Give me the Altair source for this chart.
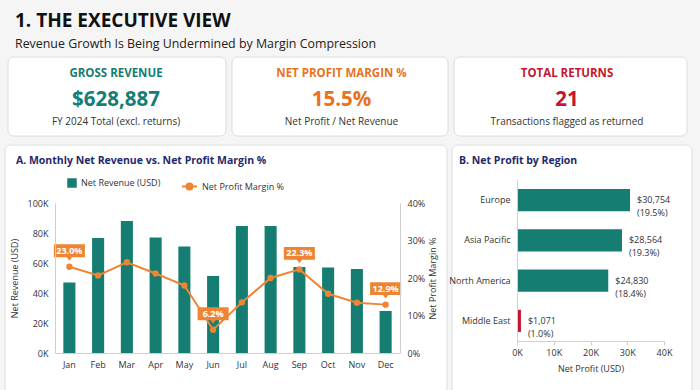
import altair as alt
import pandas as pd

# ---------------- data ----------------
months = ["Jan", "Feb", "Mar", "Apr", "May", "Jun", "Jul", "Aug", "Sep", "Oct", "Nov", "Dec"]
net_revenue = [47000, 76700, 88000, 77000, 71000, 51300, 84700, 84700, 57300, 57000, 56000, 28000]
profit_margin = [0.230, 0.207, 0.242, 0.212, 0.180, 0.062, 0.135, 0.200, 0.223, 0.158, 0.134, 0.129]
called_out = ["Jan", "Jun", "Sep", "Dec"]
series_names = ["Net Revenue (USD)", "Net Profit Margin %"]

regions = ["Europe", "Asia Pacific", "North America", "Middle East"]
region_profit = [30754, 28564, 24830, 1071]
region_margin = [0.195, 0.193, 0.184, 0.010]

kpi_titles = ["GROSS REVENUE", "NET PROFIT MARGIN %", "TOTAL RETURNS"]
kpi_values = ["$628,887", "15.5%", "21"]
kpi_notes = ["FY 2024 Total (excl. returns)", "Net Profit / Net Revenue",
             "Transactions flagged as returned"]

# ---------------- styling ----------------
FONT = "Open Sans"
TEAL = "#167d73"
ORANGE = "#ef8532"
ORANGE_DARK = "#e8721f"
RED = "#c4172f"
NAVY = "#1f2a6b"
INK = "#333333"
LINE = "#cfcfcf"

one = pd.DataFrame({"k": [0]})


def text_at(txt, x, y, size, color=INK, weight="normal", align="left"):
    return alt.Chart(one).mark_text(
        text=txt, font=FONT, fontSize=size, fontWeight=weight, color=color,
        align=align, baseline="alphabetic",
    ).encode(x=alt.value(x), y=alt.value(y))


def card(x0, x1, y0, y1):
    return alt.Chart(one).mark_rect(
        fill="white", stroke="#dcdcdc", strokeWidth=1, cornerRadius=6
    ).encode(x=alt.value(x0), x2=alt.value(x1), y=alt.value(y0), y2=alt.value(y1))


axis_text = dict(labelFont=FONT, labelFontSize=9, labelColor=INK, titleFont=FONT,
                 titleFontSize=9, titleFontWeight="normal", titleColor=INK,
                 domainColor=LINE, grid=False, zindex=1)

# ---------------- KPI cards ----------------
kpi = pd.DataFrame({"title": kpi_titles, "value": kpi_values, "note": kpi_notes})
kpi_x = alt.X("title:N", sort=kpi_titles,
              scale=alt.Scale(type="point", domain=kpi_titles, range=[116, 567], padding=0),
              axis=None)
kpi_color = alt.Color("title:N", scale=alt.Scale(domain=kpi_titles, range=[TEAL, ORANGE_DARK, RED]),
                      legend=None)
kpi_base = alt.Chart(kpi)
kpi_layer = alt.layer(
    kpi_base.mark_text(font=FONT, fontSize=11.5, fontWeight="bold", baseline="alphabetic")
    .encode(x=kpi_x, y=alt.value(77), text="title:N", color=kpi_color),
    kpi_base.mark_text(font=FONT, fontSize=20.5, fontWeight="bold", baseline="alphabetic")
    .encode(x=kpi_x, y=alt.value(105.5), text="value:N", color=kpi_color),
    kpi_base.mark_text(font=FONT, fontSize=10, color=INK, baseline="alphabetic")
    .encode(x=kpi_x, y=alt.value(124.5), text="note:N"),
)

# ---------------- Panel A: monthly revenue vs margin ----------------
monthly = pd.DataFrame({"month": months, "revenue": net_revenue, "margin": profit_margin})

x_month = alt.X(
    "month:N", sort=months,
    scale=alt.Scale(type="band", domain=months, range=[55, 400], paddingInner=0.58, paddingOuter=0.29),
    axis=alt.Axis(orient="bottom", offset=-37, title=None, ticks=False, labelAngle=0,
                  labelPadding=7, **axis_text),
)
y_rev = alt.Y(
    "revenue:Q",
    scale=alt.Scale(domain=[0, 100000], range=[353, 203], nice=False),
    axis=alt.Axis(orient="left", offset=-55, values=[0, 20000, 40000, 60000, 80000, 100000],
                  labelExpr="datum.value / 1000 + 'K'", ticks=False, labelPadding=7,
                  title="Net Revenue (USD)", titlePadding=8, **axis_text),
)
y_mar = alt.Y(
    "margin:Q",
    scale=alt.Scale(domain=[0, 0.4], range=[353, 203], nice=False),
    axis=alt.Axis(orient="right", offset=-300, values=[0, 0.1, 0.2, 0.3, 0.4], format=".0%",
                  ticks=False, labelPadding=7, title="Net Profit Margin %", titlePadding=4,
                  titleAngle=270, titleBaseline="top", **axis_text),
)

legend_text = dict(orient="none", labelFont=FONT, labelFontSize=9, labelColor=INK, zindex=1)

bars = alt.Chart(monthly).transform_calculate(series=f"'{series_names[0]}'").mark_bar(
    color=TEAL
).encode(
    x=x_month, y=y_rev,
    color=alt.Color(
        "series:N", title=None,
        scale=alt.Scale(domain=[series_names[0]], range=[TEAL]),
        legend=alt.Legend(legendX=67, legendY=178, symbolType="square", symbolSize=90,
                          symbolStrokeWidth=0, **legend_text),
    ),
)

LINE_DOT = "M-1,0L1,0M0.4,0A0.4,0.4,0,1,1,-0.4,0A0.4,0.4,0,1,1,0.4,0Z"
CALLOUT = "M-0.97,-0.4L0.97,-0.4L0.97,0.4L0.16,0.4L0,0.62L-0.16,0.4L-0.97,0.4Z"

margin_line = alt.Chart(monthly).mark_line(color=ORANGE, strokeWidth=2).encode(x=x_month, y=y_mar)
margin_dots = alt.Chart(monthly).transform_calculate(series=f"'{series_names[1]}'").mark_point(
    filled=True, size=40, opacity=1
).encode(
    x=x_month, y=y_mar,
    color=alt.Color(
        "series:N", title=None,
        scale=alt.Scale(domain=[series_names[1]], range=[ORANGE]),
        legend=alt.Legend(legendX=181, legendY=178, symbolType=LINE_DOT, symbolSize=225,
                          symbolStrokeColor=ORANGE, symbolStrokeWidth=2, **legend_text),
    ),
)
flagged = alt.Chart(monthly).transform_filter(
    alt.FieldOneOfPredicate(field="month", oneOf=called_out)
)
callout_box = flagged.mark_point(shape=CALLOUT, size=1024, filled=True, color=ORANGE,
                                 opacity=1, yOffset=-16).encode(x=x_month, y=y_mar)
callout_text = flagged.mark_text(font=FONT, fontSize=9, fontWeight="bold", color="white",
                                 dy=-16, baseline="middle").encode(
    x=x_month, y=y_mar, text=alt.Text("margin:Q", format=".1%"))

panel_a = alt.layer(
    bars,
    alt.layer(margin_line, margin_dots, callout_box, callout_text),
).resolve_scale(y="independent", color="independent")

# ---------------- Panel B: net profit by region ----------------
by_region = pd.DataFrame({"region": regions, "profit": region_profit, "margin": region_margin})

y_reg = alt.Y(
    "region:N", sort=regions,
    scale=alt.Scale(type="band", domain=regions, range=[180, 341], paddingInner=0.45,
                    paddingOuter=0.225),
    axis=alt.Axis(orient="left", offset=-517, title=None, ticks=False, labelPadding=7,
                  **axis_text),
)
x_prof = alt.X(
    "profit:Q",
    scale=alt.Scale(domain=[0, 40000], range=[517, 664], nice=False),
    axis=alt.Axis(orient="bottom", offset=-49, values=[0, 10000, 20000, 30000, 40000],
                  labelExpr="datum.value / 1000 + 'K'", tickSize=4, tickColor=LINE,
                  labelFlush=False, labelPadding=3, title="Net Profit (USD)", titlePadding=7,
                  **axis_text),
)
region_bars = alt.Chart(by_region).mark_bar().encode(
    x=x_prof, y=y_reg,
    color=alt.condition("datum.margin < 0.05", alt.value(RED), alt.value(TEAL)),
)
region_tags = alt.Chart(by_region).transform_calculate(
    tag="format(datum.profit, '$,') + '\\n(' + format(datum.margin, '.1%') + ')'"
).mark_text(font=FONT, fontSize=9, color=INK, align="left", baseline="middle", dx=7,
            lineBreak="\n", lineHeight=13).encode(x=x_prof, y=y_reg, text="tag:N")

panel_b = alt.layer(region_bars, region_tags)

# ---------------- assemble ----------------
chart = alt.layer(
    card(8, 226, 57, 136), card(232, 448, 57, 136), card(454, 687, 57, 136),
    card(5, 447, 145, 400), card(452, 692, 145, 400),
    text_at("1. THE EXECUTIVE VIEW", 15, 27, 19, color="#111111", weight="bold"),
    text_at("Revenue Growth Is Being Undermined by Margin Compression", 15, 47.5, 12.4,
            color="#222222"),
    text_at("A. Monthly Net Revenue vs. Net Profit Margin %", 16, 164, 10.5, color=NAVY,
            weight="bold"),
    text_at("B. Net Profit by Region", 459, 164, 10.5, color=NAVY, weight="bold"),
    kpi_layer,
    panel_a,
    panel_b,
).resolve_scale(
    x="independent", y="independent", color="independent"
).properties(
    width=700, height=390, padding=0, background="#f5f5f5",
    autosize=alt.AutoSizeParams(type="none"),
).configure_view(strokeWidth=0)

chart.save("out.html", embed_options={"renderer": "svg", "actions": False})
